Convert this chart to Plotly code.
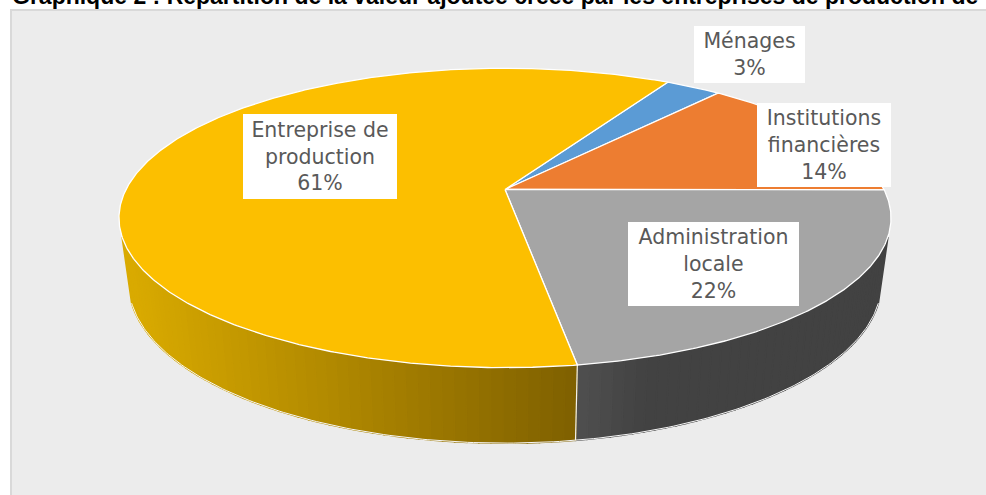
import numpy as np
import plotly.graph_objects as go

# Data (clockwise from the first slice)
categories = ["Ménages", "Institutions<br>financières", "Administration<br>locale", "Entreprise de<br>production"]
values = [2.8, 13.9, 22.49, 60.81]
colors = ["#5B9BD5", "#ED7D31", "#A5A5A5", "#FCBF00"]
title_text = "Graphique 2 : Répartition de la valeur ajoutée créée par les entreprises de production de"

# Label boxes: left, right, top, bottom in the page
label_boxes = [(694, 805, 26, 83), (757, 891, 103, 187), (628, 799, 222, 306), (243, 397, 114, 199)]

# Pie look: rotation and projection of the tilted disc
ROT = 30.0
CX, CY, B, A, K = 505.0, 189.5, 379.0, 144.3, 0.19
SIDE_SX, SIDE_SY, SIDE_DY = 0.975, 1.07, 63.0
SIDE_FROM, SIDE_TO = 108.0, 252.0


def top(theta):
    t = np.radians(theta)
    X, Y = np.sin(t), np.cos(t)
    d = 1 + K * Y
    return B * X / d, -A * Y / d


def rim(theta):
    dx, dy = top(theta)
    return CX + dx, CY + dy


def base(theta):
    dx, dy = top(theta)
    return CX + SIDE_SX * dx, CY + SIDE_DY + SIDE_SY * dy


def lerp_hex(c0, c1, f):
    f = min(max(f, 0), 1)
    a = [int(c0[i:i + 2], 16) for i in (1, 3, 5)]
    b = [int(c1[i:i + 2], 16) for i in (1, 3, 5)]
    return "#%02x%02x%02x" % tuple(round(u + (v - u) * f) for u, v in zip(a, b))


def side_color(idx, x):
    if categories[idx].startswith("Entreprise"):
        return lerp_hex("#d9aa00", "#7f6000", (x - 130) / 445)
    return lerp_hex("#505050", "#424242", (x - 575) / 70)


shares = np.array(values) / sum(values) * 360
starts = ROT + np.concatenate([[0], np.cumsum(shares)[:-1]])
ends = starts + shares

fig = go.Figure()

# Side wall strips
for i, (s, e) in enumerate(zip(starts, ends)):
    lo, hi = max(s, SIDE_FROM), min(e, SIDE_TO)
    if hi <= lo:
        continue
    n = max(2, int((hi - lo) / 1.5))
    edges = np.linspace(lo, hi, n + 1)
    for a, b in zip(edges[:-1], edges[1:]):
        tt = np.array([a, b])
        x1, y1 = rim(tt)
        x2, y2 = base(tt)
        col = side_color(i, float(np.mean(x1)))
        fig.add_trace(go.Scatter(
            x=[x1[0], x1[1], x2[1], x2[0], x1[0]], y=[y1[0], y1[1], y2[1], y2[0], y1[0]],
            mode="lines", fill="toself", fillcolor=col, line=dict(color=col, width=1.6),
            hoverinfo="skip", showlegend=False))

# White outline of the wall
tt = np.linspace(SIDE_FROM, SIDE_TO, 200)
bx, by = base(tt)
fig.add_trace(go.Scatter(x=bx, y=by, mode="lines", line=dict(color="#f7f7f7", width=1),
                         hoverinfo="skip", showlegend=False))
for a in ends:
    if SIDE_FROM < (a % 360) < SIDE_TO:
        x1, y1 = rim(a % 360)
        x2, y2 = base(a % 360)
        fig.add_trace(go.Scatter(x=[x1, x2], y=[y1, y2], mode="lines", line=dict(color="#f2f2f2", width=1.2),
                                 hoverinfo="skip", showlegend=False))

# Top faces
for s, e, col, cat in zip(starts, ends, colors, categories):
    tt = np.linspace(s, e, max(3, int(e - s) * 2))
    dx, dy = top(tt)
    xs = np.concatenate([[CX], CX + dx, [CX]])
    ys = np.concatenate([[CY], CY + dy, [CY]])
    fig.add_trace(go.Scatter(x=xs, y=ys, mode="lines", fill="toself", fillcolor=col,
                             line=dict(color="#ffffff", width=1.3), name=cat.replace("<br>", " "),
                             hoverinfo="skip", showlegend=False))

# Labels
for cat, v, (l, r, t, b) in zip(categories, values, label_boxes):
    fig.add_annotation(x=(l + r) / 2, y=(t + b) / 2, xref="x", yref="y", showarrow=False,
                       text=f"{cat}<br>{round(v)}%", width=r - l, height=b - t, bgcolor="#ffffff",
                       borderpad=0, borderwidth=0, align="center", valign="middle",
                       font=dict(family="DejaVu Sans", size=20.5, color="#595959"))

# Title, cut by the top edge of the page
fig.add_annotation(x=11, y=10, xref="x", yref="y", xanchor="left", yanchor="bottom", showarrow=False,
                   text=f"<b>{title_text}</b>", align="left", borderpad=0,
                   font=dict(family="Liberation Sans", size=23, color="#000000"))

fig.update_layout(
    width=986, height=495, margin=dict(l=0, r=0, t=0, b=0), autosize=False,
    paper_bgcolor="#ffffff", plot_bgcolor="#ffffff", showlegend=False,
    xaxis=dict(range=[0, 986], visible=False, fixedrange=True),
    yaxis=dict(range=[495, 0], visible=False, fixedrange=True),
    shapes=[dict(type="rect", xref="x", yref="y", x0=11, x1=1000, y0=10, y1=510, layer="below",
                 fillcolor="#ececec", line=dict(color="#d9d9d9", width=2))],
)

fig.write_html("out.html", config=dict(displayModeBar=False),
               post_script="document.body.style.margin='0';document.body.style.overflow='hidden';")
